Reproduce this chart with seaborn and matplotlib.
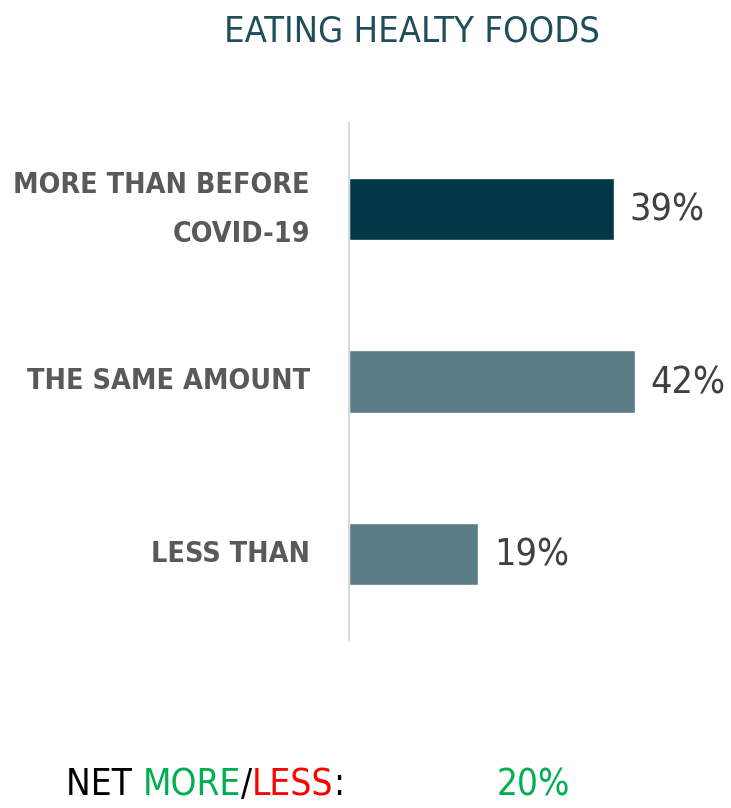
import matplotlib
matplotlib.use("Agg")
import matplotlib.pyplot as plt
import seaborn as sns
import pandas as pd

categories = ["MORE THAN BEFORE\nCOVID-19", "THE SAME AMOUNT", "LESS THAN"]
values = [39, 42, 19]
bar_colors = ["#023846", "#5A7D86", "#5A7D86"]
title = "EATING HEALTY FOODS"
net_value = "20%"

sns.set_theme(style="white")
plt.rcParams['font.family'] = ['DejaVu Sans']
plt.rcParams['font.stretch'] = 'condensed'

df = pd.DataFrame({"cat": categories, "val": values})

fig = plt.figure(figsize=(7.31, 8.08), dpi=100)
ax = fig.add_axes([0.4774, 0.2079, 0.5116, 0.6399])
sns.barplot(data=df, x="val", y="cat", hue="cat", palette=bar_colors,
            width=0.36, legend=False, ax=ax, saturation=1)
ax.set_xlim(0, 55)
ax.set_ylim(2.5, -0.5)
ax.set_xlabel("")
ax.set_ylabel("")
ax.set_xticks([])
for s in ["top", "right", "bottom"]:
    ax.spines[s].set_visible(False)
ax.spines["left"].set_color("#D9D9D9")
ax.spines["left"].set_linewidth(1.5)
ax.tick_params(axis="y", length=0, pad=28)
for lab in ax.get_yticklabels():
    lab.set_fontsize(20.5)
    lab.set_fontweight("bold")
    lab.set_fontstretch("condensed")
    lab.set_color("#595959")
    lab.set_linespacing(1.95)
    lab.set_verticalalignment("center")

for i, v in enumerate(values):
    ax.text(v + 2.3, i + 0.01, f"{v}%", va="center", ha="left", fontsize=27,
            color="#404040", fontstretch="condensed")

fig.text(0.563, 0.961, title, ha="center", va="center", fontsize=26,
         color="#1F4E5A", fontstretch="condensed")

y = 0.029
parts = [("NET ", "#000000"), ("MORE", "#00B050"), ("/", "#000000"),
         ("LESS", "#FF0000"), (":", "#000000")]
fig.canvas.draw()
r = fig.canvas.get_renderer()
x = 66 / 731
for txt, col in parts:
    t = fig.text(x, y, txt, ha="left", va="center", fontsize=26.5, color=col,
                 fontstretch="condensed")
    bb = t.get_window_extent(renderer=r)
    x += bb.width / fig.bbox.width
fig.text(497 / 731, y, net_value, ha="left", va="center", fontsize=26.5,
         color="#00B050", fontstretch="condensed")

fig.savefig("out.png", dpi=100)
